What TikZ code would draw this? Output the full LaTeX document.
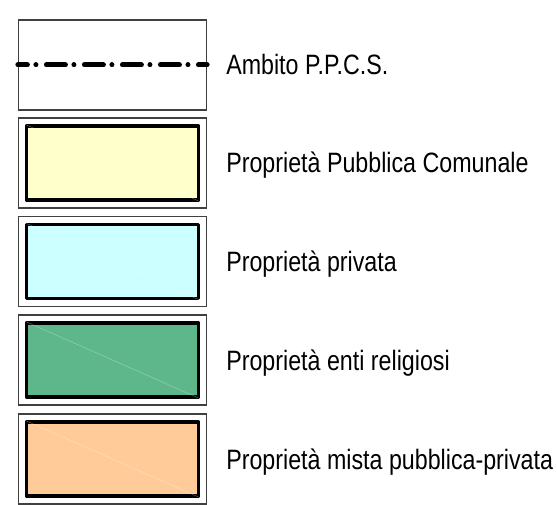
\documentclass[tikz,border=0pt]{standalone}
\usepackage{fontspec}
\setmainfont{Liberation Sans}[FakeStretch=0.83]
\usetikzlibrary{positioning}

\definecolor{propComunale}{RGB}{255,255,204}
\definecolor{propPrivata}{RGB}{204,255,255}
\definecolor{propReligiosi}{RGB}{93,183,138}
\definecolor{propMista}{RGB}{255,204,153}

\begin{document}
\begin{tikzpicture}[x=1pt, y=-1pt,
  frame/.style={draw=black!75, line width=1.2pt, fill=white, minimum width=188pt, minimum height=90pt, inner sep=0pt},
  swatch/.style={draw=black, line width=3.6pt, line join=round, minimum width=172pt, minimum height=74pt, inner sep=0pt},
  legendtext/.style={font=\fontsize{28}{30}\selectfont, anchor=west, inner sep=0pt, text height=20pt, text depth=0pt},
  ppcs/.style={line width=5pt, line cap=round, dash pattern=on 19pt off 8.5pt on 0.01pt off 10.5pt, dash phase=9.5pt}]

\useasboundingbox (0,0) rectangle (557,505);

\newcommand{\legendSwatch}[4]{
  % #1 = name, #2 = y of centre, #3 = fill colour, #4 = label
  \node[frame] (#1) at (112.5,#2) {};
  \node[swatch, fill=#3] (#1s) at (#1.center) {};
  \draw[white, opacity=0.3, line width=0.6pt, shorten <=2pt, shorten >=2pt] (#1s.north west) -- (#1s.south east);
  \node[legendtext, right=19pt of #1] (#1l) {#4};
}

% boundary of the plan
\node[frame] (ambito) at (112.5,65) {};
\draw[ppcs] (ambito.west) -- (ambito.east);
\node[legendtext, right=19pt of ambito] (ambitol) {Ambito P.P.C.S.};

% ownership categories
\legendSwatch{comunale}{163}{propComunale}{Proprietà Pubblica Comunale}
\legendSwatch{privata}{261.5}{propPrivata}{Proprietà privata}
\legendSwatch{religiosi}{360}{propReligiosi}{Proprietà enti religiosi}
\legendSwatch{mista}{459}{propMista}{Proprietà mista pubblica-privata}

\end{tikzpicture}
\end{document}
